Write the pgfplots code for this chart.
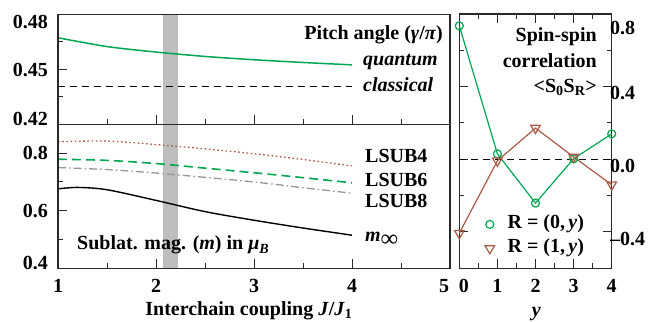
\documentclass[border=0pt]{standalone}
\usepackage{fontspec}
\setmainfont{Liberation Serif}
\usepackage{pgfplots}
\pgfplotsset{compat=1.18}

\definecolor{cgreen}{RGB}{0,166,80}
\definecolor{cbrown}{RGB}{170,90,70}
\definecolor{cgray}{RGB}{150,150,158}
\definecolor{cband}{RGB}{190,190,190}
\definecolor{caxis}{RGB}{40,40,40}

\newcommand\F{\fontsize{20}{23}\selectfont\bfseries}

\pgfplotsset{
 myax/.style={
   scale only axis, anchor=south west,
   axis line style={caxis, line width=1.2pt},
   every tick/.style={caxis, line width=1pt},
   major tick length=9pt, minor tick length=5pt,
   tick align=inside,
   tick label style={font=\F},
   label style={font=\F},
   xticklabel style={anchor=base, inner sep=0pt, yshift=-23.7pt},
   yticklabel style={anchor=base east, inner sep=0pt, xshift=-10pt, yshift=-6.6pt},
 }
}

\begin{document}
\begin{tikzpicture}[x=1pt,y=1pt, every node/.style={font=\F}]
\useasboundingbox (0pt,0pt) rectangle (660pt,321pt);

% ---------- top-left: pitch angle ----------
\begin{axis}[myax, at={(58pt,196.6pt)}, width=392pt, height=109.9pt,
  axis on top,
  xmin=1, xmax=5, ymin=0.42, ymax=0.48,
  xtick={1,2,3,4,5}, minor x tick num=1, xticklabel=\empty,
  ytick={0.42,0.45,0.48}, minor y tick num=1,
  yticklabels={\raisebox{5pt}{0.42},0.45,\raisebox{-7.5pt}{0.48}},
  xtick pos=bottom, ytick pos=left]
\fill[cband] (axis cs:2.07,0.42) rectangle (axis cs:2.22,0.48);
\addplot[cgreen, line width=1.5pt, smooth] coordinates {
 (1,0.4673) (1.5,0.4625) (2,0.4595) (2.5,0.4571) (3,0.4553) (3.5,0.4538) (4,0.4525)};
\addplot[black, line width=1.2pt, dash pattern=on 7pt off 5pt] coordinates {
 (1,0.4405) (4,0.4405)};
\end{axis}

% ---------- bottom-left: sublattice magnetisation ----------
\begin{axis}[myax, at={(58pt,52.7pt)}, width=392pt, height=143.9pt,
  axis on top,
  xmin=1, xmax=5, ymin=0.4, ymax=0.9,
  xtick={1,2,3,4,5}, minor x tick num=1,
  xticklabels={1,2,3,4,\makebox[0pt]{\hspace{-12pt}5}},
  ytick={0.4,0.6,0.8}, minor y tick num=1,
  yticklabels={\raisebox{5.5pt}{0.4},0.6,0.8},
  xtick pos=bottom, ytick pos=left,
  xlabel={Interchain coupling \textit{J}/\textit{J}\textsubscript{1}},
  xlabel style={at={(axis description cs:0.487,0)}, anchor=base, yshift=-47pt}]
\fill[cband] (axis cs:2.07,0.4) rectangle (axis cs:2.22,0.9);
\addplot[cbrown, line width=1.3pt, smooth, dash pattern=on 1.6pt off 2.6pt] coordinates {
 (1,0.840) (1.5,0.842) (2,0.830) (2.5,0.815) (3,0.798) (3.5,0.778) (4,0.756)};
\addplot[cgreen, line width=1.6pt, smooth, dash pattern=on 9pt off 5pt] coordinates {
 (1,0.779) (1.5,0.775) (2,0.764) (2.5,0.748) (3,0.732) (3.5,0.715) (4,0.697)};
\addplot[cgray, line width=1.3pt, smooth, dash pattern=on 8pt off 3pt on 1.6pt off 3pt] coordinates {
 (1,0.750) (1.5,0.743) (2,0.731) (2.5,0.716) (3,0.700) (3.5,0.680) (4,0.661)};
\addplot[black, line width=1.4pt, smooth] coordinates {
 (1,0.676) (1.2,0.681) (1.5,0.673) (2,0.636) (2.5,0.597) (3,0.567) (3.5,0.540) (4,0.515)};
\end{axis}

% ---------- right: spin-spin correlation ----------
\begin{axis}[myax, at={(459.3pt,52.7pt)}, width=152.4pt, height=254.3pt,
  xmin=0, xmax=4, ymin=-0.6, ymax=0.8,
  xtick={0,1,2,3,4}, minor x tick num=1,
  xticklabels={\makebox[0pt]{\hspace{9pt}0},1,2,3,4},
  ytick={-0.4,0,0.4,0.8}, minor y tick num=1,
  yticklabels={–0.4,0.0,0.4,\raisebox{-7.5pt}{0.8}},
  xtick pos=both, ytick pos=both, yticklabel pos=right,
  yticklabel style={anchor=base west, inner sep=0pt, xshift=8.3pt, yshift=-6.6pt},
  xlabel={\textit{y}},
  xlabel style={at={(axis description cs:0.506,0)}, anchor=base, yshift=-47.7pt},
  legend style={draw=none, fill=none, font=\F, at={(axis cs:0.67,-0.305)}, anchor=north west,
    row sep=5pt, inner sep=0pt, nodes={inner sep=0pt, text height=14pt, text depth=5pt},
    /tikz/every odd column/.style={column sep=13pt}},
  legend cell align=left,
  legend image code/.code={\draw[#1] plot coordinates {(0pt,0pt)};}]
\addplot[black, line width=1.2pt, dash pattern=on 7pt off 5pt, forget plot] coordinates {(0,0) (4,0)};
\addplot[cgreen, line width=1.2pt, mark=o, mark size=4pt, mark options={solid, line width=1.2pt, fill=white}, forget plot] coordinates {
 (0,0.735) (1,0.030) (2,-0.241) (3,0.003) (4,0.140)};
\addplot[cbrown, line width=1.2pt, mark=triangle, mark size=5.5pt, mark options={solid, rotate=180, line width=1.2pt, fill=white}, forget plot] coordinates {
 (0,-0.407) (1,-0.008) (2,0.172) (3,0.013) (4,-0.140)};
\addlegendimage{only marks, cgreen, mark=o, mark size=4pt, mark options={line width=1.2pt}}
\addlegendentry{R = (0,\,\textit{y})}
\addlegendimage{only marks, cbrown, mark=triangle, mark size=5.5pt, mark options={rotate=180, line width=1.2pt}}
\addlegendentry{R = (1,\,\textit{y})}
\end{axis}

% ---------- text labels ----------
\node[anchor=base east, inner sep=0pt] at (443pt,281pt) {Pitch angle (\textit{γ}/\textit{π})};
\node[anchor=base west, inner sep=0pt] at (363pt,255pt) {\textit{quantum}};
\node[anchor=base west, inner sep=0pt] at (363pt,229.5pt) {\textit{classical}};
\node[anchor=base west, inner sep=0pt] at (365pt,158.7pt) {LSUB4};
\node[anchor=base west, inner sep=0pt] at (365pt,134.3pt) {LSUB6};
\node[anchor=base west, inner sep=0pt] at (365pt,113.7pt) {LSUB8};
\node[anchor=base west, inner sep=0pt] at (365pt,79.3pt) {\textit{m}\raisebox{-5pt}{\fontsize{24}{24}\selectfont ∞}};
\node[anchor=base west, inner sep=0pt] at (77pt,71pt) {Sublat. mag. (\textit{m}) in \textit{μ}\textsubscript{\textit{B}}};
\node[anchor=base east, inner sep=0pt] at (597pt,279.3pt) {Spin-spin};
\node[anchor=base east, inner sep=0pt] at (597pt,253pt) {correlation};
\node[anchor=base east, inner sep=0pt] at (597pt,228.7pt) {<S\textsubscript{0}S\textsubscript{R}>};
\end{tikzpicture}
\end{document}
